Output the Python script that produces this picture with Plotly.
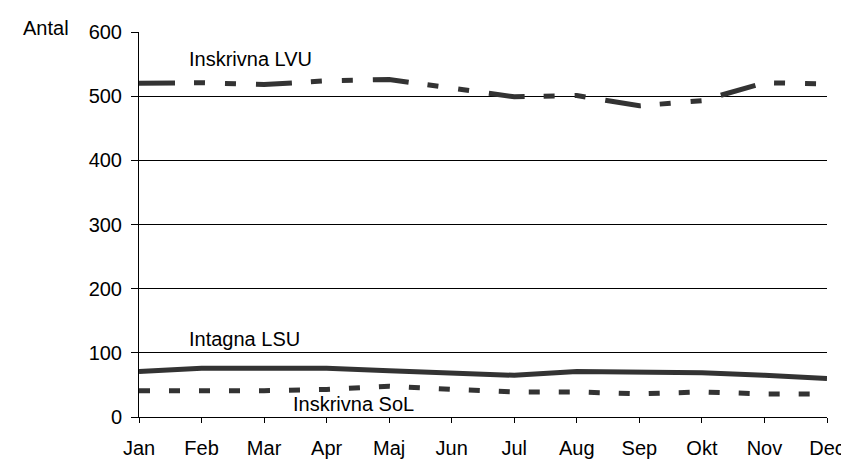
import plotly.graph_objects as go

months = ["Jan", "Feb", "Mar", "Apr", "Maj", "Jun", "Jul", "Aug", "Sep", "Okt", "Nov", "Dec"]
inskrivna_lvu = [520, 521, 518, 524, 526, 513, 499, 501, 485, 493, 521, 519]
intagna_lsu = [71, 76, 76, 76, 72, 69, 65, 71, 70, 69, 65, 60]
inskrivna_sol = [41, 41, 41, 43, 48, 43, 39, 39, 36, 39, 36, 36]

FONT = "Liberation Sans, Arial, sans-serif"
LINE_COLOR = "#333333"

fig = go.Figure()
fig.add_trace(go.Scatter(x=months, y=inskrivna_lvu, mode="lines", name="Inskrivna LVU",
                         line=dict(color=LINE_COLOR, width=5, dash="36px,19px,11px,20px,11px,20px")))
fig.add_trace(go.Scatter(x=months, y=intagna_lsu, mode="lines", name="Intagna LSU",
                         line=dict(color=LINE_COLOR, width=5)))
fig.add_trace(go.Scatter(x=months, y=inskrivna_sol, mode="lines", name="Inskrivna SoL",
                         line=dict(color=LINE_COLOR, width=5, dash="11px,19px")))

annots = [
    dict(x=0.764, y=558, text="Inskrivna LVU"),
    dict(x=0.764, y=122, text="Intagna LSU"),
    dict(x=2.43, y=20, text="Inskrivna SoL"),
]
for a in annots:
    fig.add_annotation(x=a["x"], y=a["y"], xref="x", yref="y", text=a["text"], showarrow=False,
                       xanchor="left", yanchor="middle", font=dict(family=FONT, size=20, color="black"))

fig.add_annotation(x=-0.171, y=1.01, xref="paper", yref="paper", text="Antal", showarrow=False,
                   xanchor="left", yanchor="middle", font=dict(family=FONT, size=20, color="black"))

fig.update_layout(
    width=849, height=463,
    margin=dict(l=131, r=22, t=24, b=40),
    plot_bgcolor="white", paper_bgcolor="white",
    showlegend=False,
    font=dict(family=FONT, size=20, color="black"),
)
fig.update_xaxes(type="category", range=[0, 11], showline=True, linecolor="black", linewidth=1,
                 ticks="outside", ticklen=5, tickcolor="black", showgrid=False, zeroline=False,
                 ticklabelstandoff=8,
                 tickfont=dict(family=FONT, size=20, color="black"))
fig.update_yaxes(range=[0, 600], dtick=100, showline=True, linecolor="black", linewidth=1,
                 ticks="outside", ticklen=7, tickcolor="black", showgrid=True, gridcolor="black",
                 gridwidth=1, zeroline=False, ticklabelstandoff=5,
                 tickfont=dict(family=FONT, size=20, color="black"))

fig.write_html("out.html")
